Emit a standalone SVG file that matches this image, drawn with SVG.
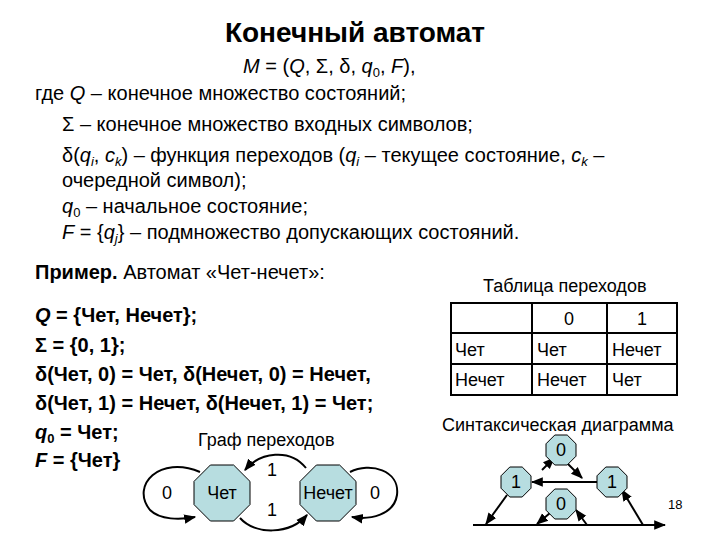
<svg xmlns="http://www.w3.org/2000/svg" width="720" height="540" viewBox="0 0 720 540">
<style>
text{font-family:"Liberation Sans",Arial,sans-serif;fill:#000}
.t{font-size:20px}
.b{font-size:20px;font-weight:bold}
.s{font-size:18px}
.oct{fill:#b7dde0;stroke:#000;stroke-width:1}
.ln{fill:none;stroke:#000;stroke-width:2}
.tb{fill:none;stroke:#000;stroke-width:2}
</style>
<defs>
<marker id="a" viewBox="0 0 10 10" refX="9" refY="5" markerWidth="6" markerHeight="6" orient="auto"><path d="M0,1 L10,5 L0,9 z" fill="#000"/></marker>
<polygon id="o28" points="-11.6,-28 11.6,-28 28,-11.6 28,11.6 11.6,28 -11.6,28 -28,11.6 -28,-11.6"/>
<polygon id="o15" points="-6.2,-15 6.2,-15 15,-6.2 15,6.2 6.2,15 -6.2,15 -15,6.2 -15,-6.2"/>
</defs>
<text x="355" y="42" font-size="28" font-weight="bold" text-anchor="middle">Конечный автомат</text>
<text class="t" x="243" y="73"><tspan font-style="italic">M</tspan> = (<tspan font-style="italic">Q</tspan>, Σ, δ, <tspan font-style="italic">q</tspan><tspan font-size="13" dy="4">0</tspan><tspan dy="-4">, </tspan><tspan font-style="italic">F</tspan>),</text>
<text class="t" x="35" y="100">где <tspan font-style="italic">Q</tspan> – конечное множество состояний;</text>
<text class="t" x="62" y="131">Σ – конечное множество входных символов;</text>
<text class="t" x="62" y="162">δ(<tspan font-style="italic">q</tspan><tspan font-size="13" dy="4" font-style="italic">i</tspan><tspan dy="-4">, </tspan><tspan font-style="italic">c</tspan><tspan font-size="13" dy="4" font-style="italic">k</tspan><tspan dy="-4">) – функция переходов (</tspan><tspan font-style="italic">q</tspan><tspan font-size="13" dy="4" font-style="italic">i</tspan><tspan dy="-4"> – текущее состояние, </tspan><tspan font-style="italic">c</tspan><tspan font-size="13" dy="4" font-style="italic">k</tspan><tspan dy="-4"> –</tspan></text>
<text class="t" x="62" y="187">очередной символ);</text>
<text class="t" x="62" y="213"><tspan font-style="italic">q</tspan><tspan font-size="13" dy="4">0</tspan><tspan dy="-4"> – начальное состояние;</tspan></text>
<text class="t" x="62" y="239"><tspan font-style="italic">F</tspan> = {<tspan font-style="italic">q</tspan><tspan font-size="13" dy="4" font-style="italic">j</tspan><tspan dy="-4">} – подмножество допускающих состояний.</tspan></text>
<text class="t" x="35" y="279"><tspan font-weight="bold">Пример.</tspan> Автомат «Чет-нечет»:</text>
<text class="s" x="483" y="292">Таблица переходов</text>
<text class="b" x="35" y="322"><tspan font-style="italic">Q</tspan> = {Чет, Нечет};</text>
<text class="b" x="35" y="352">Σ = {0, 1};</text>
<text class="b" x="35" y="381">δ(Чет, 0) = Чет, δ(Нечет, 0) = Нечет,</text>
<text class="b" x="35" y="410">δ(Чет, 1) = Нечет, δ(Нечет, 1) = Чет;</text>
<text class="b" x="35" y="439"><tspan font-style="italic">q</tspan><tspan font-size="13" dy="4">0</tspan><tspan dy="-4"> = Чет;</tspan></text>
<text class="b" x="35" y="467"><tspan font-style="italic">F</tspan> = {Чет}</text>
<text class="s" x="198" y="446">Граф переходов</text>
<text class="s" x="442" y="431">Синтаксическая диаграмма</text>
<g id="table">
<rect class="tb" x="451" y="303" width="226" height="92"/>
<line class="tb" x1="532" y1="303" x2="532" y2="395"/>
<line class="tb" x1="607" y1="303" x2="607" y2="395"/>
<line class="tb" x1="451" y1="333" x2="677" y2="333"/>
<line class="tb" x1="451" y1="364" x2="677" y2="364"/>
<text class="s" x="569" y="325" text-anchor="middle">0</text>
<text class="s" x="642" y="325" text-anchor="middle">1</text>
<text class="s" x="455" y="356">Чет</text>
<text class="s" x="537" y="356">Чет</text>
<text class="s" x="612" y="356">Нечет</text>
<text class="s" x="455" y="386">Нечет</text>
<text class="s" x="537" y="386">Нечет</text>
<text class="s" x="612" y="386">Чет</text>
</g>
<g id="graph-connectors">
<path class="ln" d="M200,472 C160,455 130,485 150,510 C160,520 180,520 195,517" marker-end="url(#a)"/>
<path class="ln" d="M350,472 C370,462 400,470 397,495 C394,515 370,520 352,517" marker-end="url(#a)"/>
<path class="ln" d="M306,468 C290,448 260,452 245,470" marker-end="url(#a)"/>
<path class="ln" d="M240,518 C255,535 290,535 307,515" marker-end="url(#a)"/>
</g>
<text class="s" x="167" y="499" text-anchor="middle">0</text>
<text class="s" x="375" y="499" text-anchor="middle">0</text>
<text class="s" x="272" y="476" text-anchor="middle">1</text>
<text class="s" x="272" y="516" text-anchor="middle">1</text>
<g id="chet"><use href="#o28" class="oct" x="222" y="493"/><text class="s" x="222" y="499" text-anchor="middle">Чет</text></g>
<g id="nechet"><use href="#o28" class="oct" x="328" y="493"/><text class="s" x="328" y="499" text-anchor="middle">Нечет</text></g>
<g id="syntax-connectors">
<line class="ln" x1="473" y1="525" x2="665" y2="525" marker-end="url(#a)"/>
<line class="ln" x1="597" y1="482" x2="532" y2="482" marker-end="url(#a)"/>
<line class="ln" x1="542" y1="470" x2="554" y2="458" marker-end="url(#a)"/>
<line class="ln" x1="567" y1="463" x2="582" y2="478" marker-end="url(#a)"/>
<line class="ln" x1="507" y1="495" x2="486" y2="524" marker-end="url(#a)"/>
<line class="ln" x1="587" y1="525" x2="576" y2="510" marker-end="url(#a)"/>
<line class="ln" x1="550" y1="513" x2="537" y2="524" marker-end="url(#a)"/>
<line class="ln" x1="643" y1="525" x2="622" y2="490" marker-end="url(#a)"/>
</g>
<g id="s0top"><use href="#o15" class="oct" x="561" y="450"/><text class="s" x="561" y="456" text-anchor="middle">0</text></g>
<g id="s1left"><use href="#o15" class="oct" x="516" y="482"/><text class="s" x="516" y="488" text-anchor="middle">1</text></g>
<g id="s1right"><use href="#o15" class="oct" x="612" y="482"/><text class="s" x="612" y="488" text-anchor="middle">1</text></g>
<g id="s0bot"><use href="#o15" class="oct" x="561" y="504"/><text class="s" x="561" y="510" text-anchor="middle">0</text></g>
<text x="668" y="509" font-size="13">18</text>
</svg>
